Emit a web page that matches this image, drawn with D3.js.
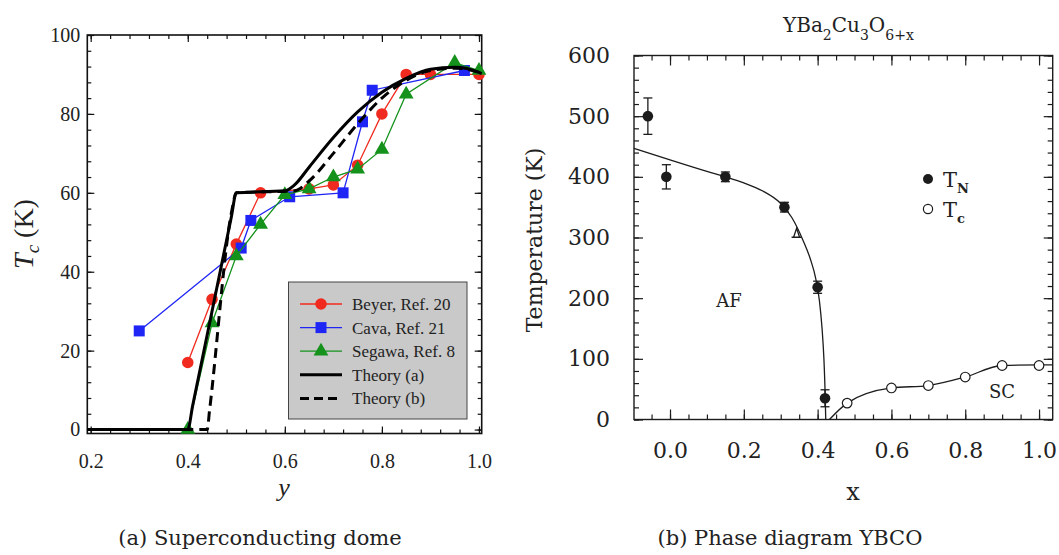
<!doctype html>
<html>
<head>
<meta charset="utf-8">
<style>
  body { margin: 0; background: #fff; }
  svg { display: block; background: #fff; }
  .tkA text { font-family: 'Liberation Serif', 'Times New Roman', Times, serif; font-size: 20px; fill: #222; }
  .tkB text { font-family: 'DejaVu Serif', serif; font-size: 22px; fill: #222; }
  .serifA { font-family: 'Liberation Serif', 'Times New Roman', Times, serif; fill: #222; }
  .serifB { font-family: 'DejaVu Serif', serif; fill: #222; }
</style>
<script src="https://d3js.org/d3.v7.min.js"></script>
</head>
<body>
<script>
// ---------- panel (a): Tc vs y ----------
var beyer  = [[0.40,17],[0.45,33],[0.50,47],[0.55,60],[0.65,61],[0.70,62],[0.75,67],[0.80,80],[0.85,90],[0.90,90],[1.00,90]];
var cava   = [[0.30,25],[0.51,46],[0.53,53],[0.61,59],[0.72,60],[0.76,78],[0.78,86],[0.97,91]];
var segawa = [[0.40,0],[0.45,27],[0.50,44],[0.55,52],[0.60,59.5],[0.65,61],[0.70,64],[0.75,66],[0.80,71],[0.85,85],[0.95,93],[1.00,91]];
var theoryA = [[0.193,0],[0.40,0],[0.41,6],[0.49,54],[0.50,60],[0.60,60.5],[0.62,62],[0.65,66.5],[0.70,74],[0.75,80.5],[0.80,85.5],[0.85,89],[0.90,91.3],[0.95,91.8],[1.00,90.5],[1.0056,90.2]];
var theoryB = [[0.193,0],[0.44,0],[0.445,5],[0.49,55],[0.50,60],[0.62,60.5],[0.65,63],[0.70,70],[0.75,77.5],[0.80,84],[0.85,88.5],[0.90,91],[0.95,91.6],[1.00,90.5],[1.0056,90.2]];
var xTicksA = [0.2, 0.4, 0.6, 0.8, 1.0];
var yTicksA = [0, 20, 40, 60, 80, 100];
var legendA = ["Beyer, Ref. 20", "Cava, Ref. 21", "Segawa, Ref. 8", "Theory (a)", "Theory (b)"];

// ---------- panel (b): YBCO phase diagram ----------
var tnX   = [-0.06, -0.01, 0.15, 0.31, 0.40, 0.42];
var tnT   = [500, 400, 400, 350, 218, 35];
var tnErr = [30, 20, 8, 8, 10, 14];
var extraPt = [0.343, 307];
var tcX = [0.48, 0.60, 0.70, 0.80, 0.90, 1.00];
var tcT = [27, 52, 56, 70, 89, 89];
var afCurve = [[-0.0976,447],[0.0,428],[0.10,409],[0.15,400],[0.20,390],[0.25,377],[0.30,356],[0.33,333],[0.36,296],[0.38,265],[0.395,232],[0.405,195],[0.412,150],[0.417,100],[0.420,50],[0.422,0]];
var scCurve = [[0.432,0],[0.48,27],[0.60,52],[0.70,56],[0.80,70],[0.90,89],[1.00,90],[1.037,90]];
var xTicksB = [0.0, 0.2, 0.4, 0.6, 0.8, 1.0];
var yTicksB = [0, 100, 200, 300, 400, 500, 600];

var svg = d3.select("body").append("svg").attr("width", 1059).attr("height", 555);

function ticks(g, axisFn, scale, vals, size, fmt, cls, tr, pad, col) {
  var ax = axisFn(scale).tickValues(vals).tickSize(-size).tickPadding(pad || 0).tickFormat(fmt || (function() { return ""; }));
  var s = g.append("g").attr("class", cls).attr("transform", tr).call(ax);
  s.attr("font-family", null).attr("font-size", null);
  s.select(".domain").remove();
  s.selectAll("line").attr("stroke", col).attr("stroke-width", 1.2);
  return s;
}

// ===== panel (a) =====
var xA = d3.scaleLinear().domain([0.193, 1.0056]).range([87.3, 481.7]);
var yA = d3.scaleLinear().domain([-1, 100]).range([433.5, 35]);
var gA = svg.append("g");
var minXA = d3.range(0.2, 1.0001, 0.04), minYA = d3.range(0, 100.1, 4);
var fA = d3.format(".1f");

ticks(gA, d3.axisBottom, xA, minXA, 4, null, "tkA", "translate(0,433.5)", 0, "#111");
ticks(gA, d3.axisBottom, xA, xTicksA, 7, fA, "tkA", "translate(0,433.5)", 20, "#111");
ticks(gA, d3.axisTop, xA, minXA, 4, null, "tkA", "translate(0,35)", 0, "#111");
ticks(gA, d3.axisTop, xA, xTicksA, 7, null, "tkA", "translate(0,35)", 0, "#111");
ticks(gA, d3.axisLeft, yA, minYA, 4, null, "tkA", "translate(87.3,0)", 0, "#111");
ticks(gA, d3.axisLeft, yA, yTicksA, 7, d3.format("d"), "tkA", "translate(87.3,0)", 7, "#111");
ticks(gA, d3.axisRight, yA, minYA, 4, null, "tkA", "translate(481.7,0)", 0, "#111");
ticks(gA, d3.axisRight, yA, yTicksA, 7, null, "tkA", "translate(481.7,0)", 0, "#111");

gA.append("rect").attr("x", 87.3).attr("y", 35).attr("width", 481.7 - 87.3).attr("height", 433.5 - 35)
  .attr("fill", "none").attr("stroke", "#111").attr("stroke-width", 1.6);

var lineA = d3.line().x(function(d) { return xA(d[0]); }).y(function(d) { return yA(d[1]); });
var seriesA = [
  { data: beyer, color: "#f02a1e", sym: d3.symbolCircle, size: 105 },
  { data: cava, color: "#1f25f5", sym: d3.symbolSquare, size: 121 },
  { data: segawa, color: "#15921c", sym: d3.symbolTriangle, size: 95 }
];
seriesA.forEach(function(s) {
  gA.append("path").attr("d", lineA(s.data)).attr("fill", "none").attr("stroke", s.color).attr("stroke-width", 1.3);
  gA.selectAll(null).data(s.data).enter().append("path")
    .attr("d", d3.symbol(s.sym, s.size))
    .attr("transform", function(d) { return "translate(" + xA(d[0]) + "," + yA(d[1]) + ")"; })
    .attr("fill", s.color);
});
var curveA = d3.line().curve(d3.curveMonotoneX).x(function(d) { return xA(d[0]); }).y(function(d) { return yA(d[1]); });
gA.append("path").attr("d", curveA(theoryB)).attr("fill", "none").attr("stroke", "#000").attr("stroke-width", 3).attr("stroke-dasharray", "10,6");
gA.append("path").attr("d", curveA(theoryA)).attr("fill", "none").attr("stroke", "#000").attr("stroke-width", 3);

// legend (a)
var lg = gA.append("g");
lg.append("rect").attr("x", 288.5).attr("y", 282).attr("width", 178.5).attr("height", 137)
  .attr("fill", "#c9c9c9").attr("stroke", "#444").attr("stroke-width", 1);
legendA.forEach(function(name, i) {
  var yy = 304 + i * 23.6;
  var line = lg.append("line").attr("x1", 300).attr("x2", 342).attr("y1", yy).attr("y2", yy);
  if (i < 3) {
    line.attr("stroke", seriesA[i].color).attr("stroke-width", 1.3);
    lg.append("path").attr("d", d3.symbol(seriesA[i].sym, seriesA[i].size)).attr("transform", "translate(321," + yy + ")").attr("fill", seriesA[i].color);
  } else {
    line.attr("stroke", "#000").attr("stroke-width", 3);
    if (i === 4) line.attr("stroke-dasharray", "9,5");
  }
  lg.append("text").attr("class", "serifA").attr("x", 352).attr("y", yy).attr("dy", "0.35em")
    .attr("font-size", 17).text(name);
});

// axis titles (a)
var yl = gA.append("text").attr("class", "serifA").attr("transform", "translate(33,234) rotate(-90)")
  .attr("text-anchor", "middle").attr("font-size", 28);
yl.append("tspan").attr("font-style", "italic").text("T");
yl.append("tspan").attr("font-style", "italic").attr("font-size", 19).attr("dy", 6).text("c");
yl.append("tspan").attr("dy", -6).text(" (K)");
gA.append("text").attr("class", "serifA").attr("x", 284).attr("y", 496).attr("text-anchor", "middle")
  .attr("font-size", 26).attr("font-style", "italic").text("y");

// ===== panel (b) =====
var xB = d3.scaleLinear().domain([-0.0976, 1.037]).range([634, 1052.7]);
var yB = d3.scaleLinear().domain([0, 600]).range([419.5, 55.5]);
var gB = svg.append("g");
var ink = "#1c1c1c";
var minXB = d3.range(-0.05, 1.031, 0.05), minYB = d3.range(0, 600.1, 20);

ticks(gB, d3.axisBottom, xB, minXB, 5, null, "tkB", "translate(0,419.5)", 0, ink);
ticks(gB, d3.axisBottom, xB, xTicksB, 10, d3.format(".1f"), "tkB", "translate(0,419.5)", 23, ink);
ticks(gB, d3.axisTop, xB, minXB, 5, null, "tkB", "translate(0,55.5)", 0, ink);
ticks(gB, d3.axisTop, xB, xTicksB, 10, null, "tkB", "translate(0,55.5)", 0, ink);
ticks(gB, d3.axisLeft, yB, minYB, 5, null, "tkB", "translate(634,0)", 0, ink);
ticks(gB, d3.axisLeft, yB, yTicksB, 9, d3.format("d"), "tkB", "translate(634,0)", 24, ink);
ticks(gB, d3.axisRight, yB, minYB, 5, null, "tkB", "translate(1052.7,0)", 0, ink);
ticks(gB, d3.axisRight, yB, yTicksB, 9, null, "tkB", "translate(1052.7,0)", 0, ink);

gB.append("rect").attr("x", 634).attr("y", 55.5).attr("width", 1052.7 - 634).attr("height", 419.5 - 55.5)
  .attr("fill", "none").attr("stroke", ink).attr("stroke-width", 1.4);

var curveB = d3.line().curve(d3.curveMonotoneX).x(function(d) { return xB(d[0]); }).y(function(d) { return yB(d[1]); });
gB.append("path").attr("d", curveB(afCurve)).attr("fill", "none").attr("stroke", ink).attr("stroke-width", 1.3);
gB.append("path").attr("d", curveB(scCurve)).attr("fill", "none").attr("stroke", ink).attr("stroke-width", 1.3);

// T_N points with error bars
tnX.forEach(function(xv, i) {
  var cx = xB(xv), y0 = yB(tnT[i] - tnErr[i]), y1 = yB(tnT[i] + tnErr[i]);
  gB.append("line").attr("x1", cx).attr("x2", cx).attr("y1", y0).attr("y2", y1).attr("stroke", ink).attr("stroke-width", 1.3);
  [y0, y1].forEach(function(yy) {
    gB.append("line").attr("x1", cx - 4.5).attr("x2", cx + 4.5).attr("y1", yy).attr("y2", yy).attr("stroke", ink).attr("stroke-width", 1.3);
  });
  gB.append("circle").attr("cx", cx).attr("cy", yB(tnT[i])).attr("r", 5.3).attr("fill", ink);
});
// small triangle marker with lower bar
(function() {
  var px = xB(extraPt[0]), py = yB(extraPt[1]);
  gB.append("path").attr("d", "M" + (px - 5) + "," + (py + 4) + "H" + (px + 5) + "M" + (px - 3) + "," + (py + 4) + "L" + px + "," + (py - 5) + "L" + (px + 3) + "," + (py + 4))
    .attr("fill", "none").attr("stroke", ink).attr("stroke-width", 1.3);
})();
// T_c open circles
tcX.forEach(function(xv, i) {
  gB.append("circle").attr("cx", xB(xv)).attr("cy", yB(tcT[i])).attr("r", 4.8)
    .attr("fill", "#fff").attr("stroke", ink).attr("stroke-width", 1.2);
});

// legend (b)
gB.append("circle").attr("cx", 928).attr("cy", 179).attr("r", 5).attr("fill", ink);
gB.append("circle").attr("cx", 928).attr("cy", 209).attr("r", 4.6).attr("fill", "#fff").attr("stroke", ink).attr("stroke-width", 1.2);
[["N", 187], ["c", 217]].forEach(function(p) {
  var t = gB.append("text").attr("class", "serifB").attr("x", 943).attr("y", p[1]).attr("font-size", 21);
  t.append("tspan").text("T");
  t.append("tspan").attr("font-size", 13).attr("dy", 6).attr("font-weight", "bold").text(p[0]);
});

gB.append("text").attr("class", "serifB").attr("x", 729).attr("y", 301).attr("dy", "0.35em").attr("text-anchor", "middle").attr("font-size", 18).text("AF");
gB.append("text").attr("class", "serifB").attr("x", 1002).attr("y", 392).attr("dy", "0.35em").attr("text-anchor", "middle").attr("font-size", 18).text("SC");

// title (b)
var tt = gB.append("text").attr("class", "serifB").attr("x", 783).attr("y", 32).attr("font-size", 20);
[["YBa", "2"], ["Cu", "3"], ["O", "6+x"]].forEach(function(p, i) {
  tt.append("tspan").attr("dy", i === 0 ? 0 : -8).text(p[0]);
  tt.append("tspan").attr("dy", 8).attr("font-size", 14).text(p[1]);
});

gB.append("text").attr("class", "serifB").attr("transform", "translate(542,240) rotate(-90)")
  .attr("text-anchor", "middle").attr("font-size", 22).text("Temperature  (K)");
gB.append("text").attr("class", "serifB").attr("x", 853).attr("y", 500).attr("text-anchor", "middle")
  .attr("font-size", 24).text("x");

// captions
svg.append("text").attr("class", "serifB").attr("x", 260).attr("y", 545).attr("text-anchor", "middle")
  .attr("font-size", 21).text("(a) Superconducting dome");
svg.append("text").attr("class", "serifB").attr("x", 790).attr("y", 545).attr("text-anchor", "middle")
  .attr("font-size", 21).text("(b) Phase diagram YBCO");
</script>
</body>
</html>
